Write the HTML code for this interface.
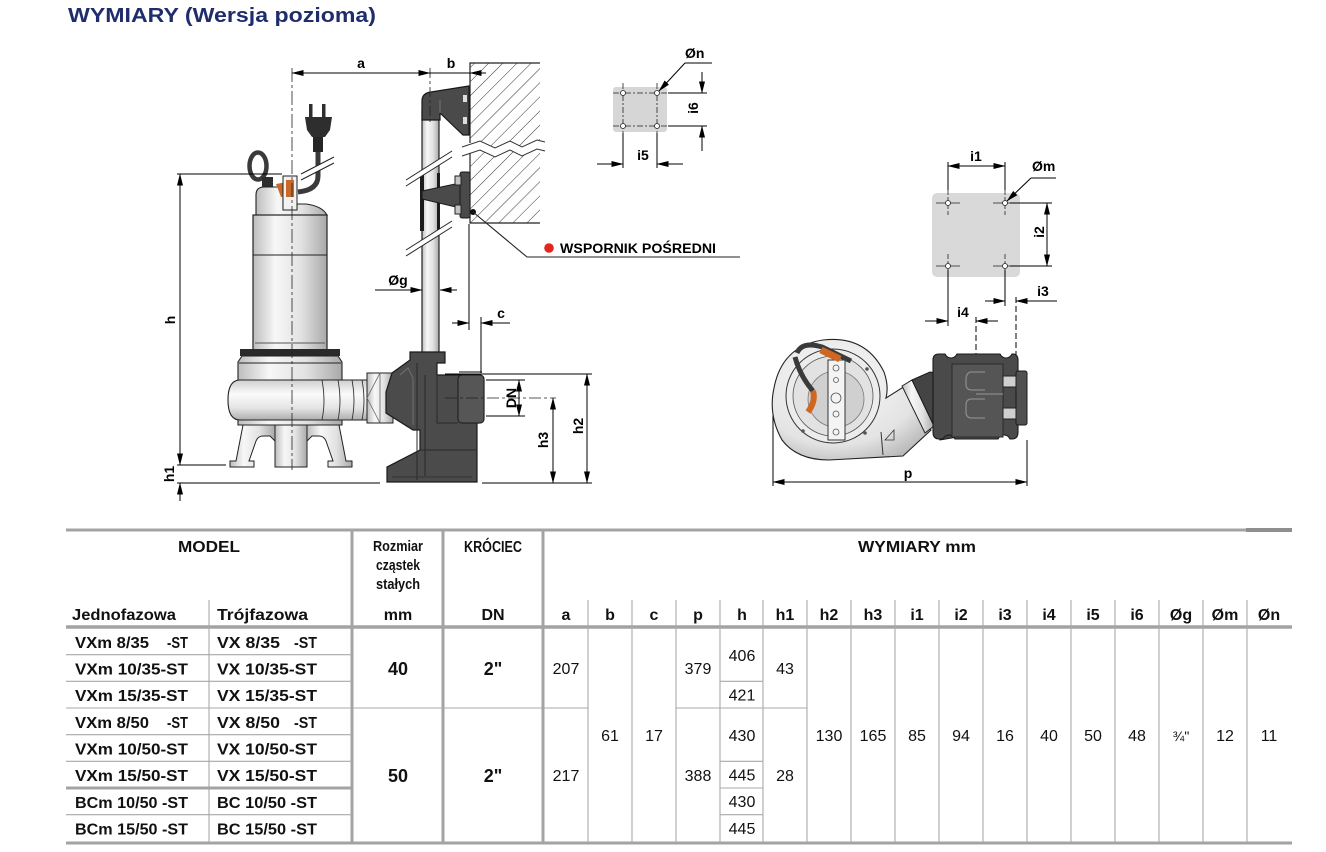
<!DOCTYPE html>
<html><head><meta charset="utf-8">
<style>html,body{margin:0;padding:0;background:#fff}svg{display:block}</style>
</head><body>
<svg xmlns="http://www.w3.org/2000/svg" width="1326" height="852" viewBox="0 0 1326 852" font-family="'Liberation Sans', sans-serif">
<defs>
 <marker id="ar" markerWidth="12" markerHeight="6" refX="11.5" refY="3" orient="auto-start-reverse" markerUnits="userSpaceOnUse"><path d="M0,0 L12,3 L0,6 z" fill="#000"/></marker>
 <linearGradient id="mh" x1="0" y1="0" x2="1" y2="0"><stop offset="0" stop-color="#bdbdbd"/><stop offset=".3" stop-color="#f7f7f7"/><stop offset=".65" stop-color="#e2e2e2"/><stop offset="1" stop-color="#a9a9a9"/></linearGradient>
 <linearGradient id="mv" x1="0" y1="0" x2="0" y2="1"><stop offset="0" stop-color="#cfcfcf"/><stop offset=".35" stop-color="#fbfbfb"/><stop offset=".7" stop-color="#e4e4e4"/><stop offset="1" stop-color="#aeaeae"/></linearGradient>
 <radialGradient id="mr" cx=".4" cy=".35" r=".75"><stop offset="0" stop-color="#fbfbfb"/><stop offset=".7" stop-color="#e3e3e3"/><stop offset="1" stop-color="#b5b5b5"/></radialGradient>
 <pattern id="hatch" width="10" height="10" patternUnits="userSpaceOnUse" patternTransform="rotate(45)"><line x1="0" y1="0" x2="0" y2="10" stroke="#333" stroke-width="1"/></pattern>
</defs>
<rect width="1326" height="852" fill="#fff"/>

<!-- TITLE -->
<text x="68" y="22" font-size="20" font-weight="bold" fill="#1f2d6b" textLength="308" lengthAdjust="spacingAndGlyphs">WYMIARY (Wersja pozioma)</text>

<!-- ================= FRONT VIEW DRAWING ================= -->
<rect x="470" y="63" width="70" height="160" fill="url(#hatch)"/>
<path d="M462,147 L480,141 L495,148 L510,141 L522,147 L537,140 L545,142 L545,151 L537,149 L522,156 L510,150 L495,157 L480,150 L462,156 Z" fill="#fff"/>
<polyline points="462,147 480,141 495,148 510,141 522,147 537,140 545,142" fill="none" stroke="#333"/>
<polyline points="462,156 480,150 495,157 510,150 522,156 537,149 545,151" fill="none" stroke="#333"/>
<path d="M540,63 L470,63 L470,143 M470,153 L470,223 L540,223" fill="none" stroke="#222" stroke-width="1.2"/>

<rect x="422" y="110" width="17" height="246" fill="url(#mh)" stroke="#222" stroke-width="1.2"/>
<rect x="420" y="173" width="4" height="58" fill="#1c1c1c"/>
<rect x="437" y="173" width="3" height="58" fill="#1c1c1c"/>
<polygon points="406,180 452,151 452,157 406,186" fill="#fff"/>
<line x1="406" y1="180" x2="452" y2="151" stroke="#222"/>
<line x1="406" y1="186" x2="452" y2="157" stroke="#222"/>
<polygon points="406,250 452,221 452,227 406,256" fill="#fff"/>
<line x1="406" y1="250" x2="452" y2="221" stroke="#222"/>
<line x1="406" y1="256" x2="452" y2="227" stroke="#222"/>

<path d="M422,120 L422,101 Q422,93 431,92 L469,86 L469,135 L463,135 L440,113 L440,120 Z" fill="#4a4a4a" stroke="#1a1a1a" stroke-width="1.2"/>
<line x1="440" y1="113" x2="440" y2="100" stroke="#777"/>
<rect x="463" y="95" width="4" height="7" fill="#ddd"/>
<rect x="463" y="117" width="4" height="7" fill="#ddd"/>

<polygon points="422,191 460,183 460,208 422,199" fill="#4a4a4a" stroke="#1a1a1a"/>
<rect x="460" y="172" width="10" height="46" rx="2" fill="#4a4a4a" stroke="#1a1a1a"/>
<rect x="455" y="176" width="6" height="9" fill="#c4c4c4" stroke="#222"/>
<rect x="455" y="205" width="6" height="9" fill="#c4c4c4" stroke="#222"/>
<circle cx="473" cy="212" r="3" fill="#111"/>
<polyline points="473,212 527,257 740,257" fill="none" stroke="#222" stroke-width="1.1"/>
<circle cx="549" cy="248" r="4.8" fill="#e2261d"/>
<text x="560" y="253" font-size="13.5" font-weight="bold" textLength="156" lengthAdjust="spacingAndGlyphs">WSPORNIK POŚREDNI</text>

<ellipse cx="258" cy="166" rx="8.5" ry="13.5" fill="none" stroke="#3a3a3a" stroke-width="4.5"/>
<rect x="262" y="177" width="11" height="11" fill="#2e2e2e"/>
<path d="M318,150 L318,176 Q318,190 298,192" fill="none" stroke="#3a3a3a" stroke-width="5"/>
<polygon points="301,174 334,157 334,163 301,180" fill="#fff"/>
<line x1="301" y1="174" x2="334" y2="157" stroke="#222"/>
<line x1="301" y1="180" x2="334" y2="163" stroke="#222"/>
<rect x="309" y="104" width="3.5" height="14" fill="#2e2e2e"/>
<rect x="322" y="104" width="3.5" height="14" fill="#2e2e2e"/>
<path d="M305,117 L332,117 L330,130 L325,137 L312,137 L307,130 Z" fill="#2e2e2e"/>
<rect x="313" y="137" width="10" height="15" fill="#262626"/>

<path d="M256,215 L256,195 Q256,187 264,187 L283,187 L283,208 L297,208 L297,204 L306,204 Q322,206 327,215 Z" fill="url(#mh)" stroke="#222" stroke-width="1.1"/>
<path d="M276,184 L287,182 L292,195 L281,197 Z" fill="#c8682a"/>
<rect x="283" y="176" width="14" height="34" fill="#f2f2f2" stroke="#222"/>
<rect x="286" y="180" width="8" height="17" fill="#c8682a"/>
<rect x="253" y="215" width="74" height="135" fill="url(#mh)" stroke="#222" stroke-width="1.2"/>
<line x1="253" y1="255" x2="327" y2="255" stroke="#222" stroke-width="1.1"/>
<line x1="255" y1="343" x2="325" y2="343" stroke="#555"/>
<rect x="240" y="349" width="100" height="7" fill="#2a2a2a"/>
<path d="M242,356 L338,356 L342,362 L342,425 L238,425 L238,362 Z" fill="url(#mh)" stroke="#222" stroke-width="1.1"/>
<line x1="239" y1="363" x2="341" y2="363" stroke="#222"/>
<path d="M243,425 L236,461 L230,461 L230,467 L254,467 L254,461 L249,461 L256,441 Q258,436 263,436 L270,436 L275,441 L275,425 Z" fill="url(#mh)" stroke="#222"/>
<path d="M339,425 L346,461 L352,461 L352,467 L328,467 L328,461 L333,461 L326,441 Q324,436 319,436 L312,436 L307,441 L307,425 Z" fill="url(#mh)" stroke="#222"/>
<rect x="275" y="425" width="32" height="42" fill="url(#mh)" stroke="#222"/>
<path d="M240,380 L372,380 L372,420 L240,420 Q228,420 228,400 Q228,380 240,380 Z" fill="url(#mv)" stroke="#222" stroke-width="1.1"/>
<path d="M322,380 Q326,400 322,420 M338,380 Q342,400 338,420 M352,380 Q356,400 352,420 M362,380 Q366,400 362,420" fill="none" stroke="#333" stroke-width=".9"/>
<rect x="367" y="373" width="26" height="50" fill="url(#mh)" stroke="#222"/>
<path d="M367,398 L380,373 M380,423 L367,398 M380,373 L380,423" fill="none" stroke="#666" stroke-width=".8"/>

<path d="M410,352 L445,352 L445,363 L437,363 L437,375 L480,375 Q484,376 484,380 L484,418 Q484,423 479,423 L477,423 L477,482 L387,482 L387,467 L420,450 L420,430 L413,430 L386,413 L386,392 L392,373 L410,360 Z" fill="#4b4b4b" stroke="#1a1a1a" stroke-width="1.2"/>
<rect x="458" y="375" width="26" height="48" rx="4" fill="#565656" stroke="#1a1a1a"/>
<path d="M417,363 L417,480 M425,375 L425,476 M420,450 L477,450 M437,375 L437,423 L458,423" fill="none" stroke="#2a2a2a" stroke-width="1"/>
<path d="M400,375 L408,368 L413,378 L413,425" fill="none" stroke="#6a6a6a" stroke-width="1.2"/>
<line x1="392" y1="477" x2="472" y2="477" stroke="#333"/>

<line x1="292" y1="68" x2="292" y2="470" stroke="#222" stroke-width=".8" stroke-dasharray="14 3 3 3"/>
<line x1="430" y1="68" x2="430" y2="122" stroke="#222" stroke-width=".8" stroke-dasharray="10 3 3 3"/>
<line x1="445" y1="398" x2="556" y2="398" stroke="#222" stroke-width=".8" stroke-dasharray="12 3 3 3"/>

<g stroke="#000" stroke-width="1" fill="none">
 <line x1="292" y1="73" x2="430" y2="73" marker-start="url(#ar)" marker-end="url(#ar)"/>
 <line x1="430" y1="73" x2="470" y2="73"/>
 <line x1="486" y1="73" x2="470" y2="73" marker-end="url(#ar)"/>
 <line x1="177" y1="174" x2="282" y2="174"/>
 <line x1="180" y1="174" x2="180" y2="465" marker-start="url(#ar)" marker-end="url(#ar)"/>
 <line x1="177" y1="465" x2="226" y2="465"/>
 <line x1="177" y1="483" x2="380" y2="483"/>
 <line x1="482" y1="483" x2="592" y2="483"/>
 <line x1="180" y1="501" x2="180" y2="483" marker-end="url(#ar)"/>
 <line x1="375" y1="290" x2="422" y2="290" marker-end="url(#ar)"/>
 <line x1="457" y1="290" x2="440" y2="290" marker-end="url(#ar)"/>
 <line x1="469" y1="224" x2="469" y2="330"/>
 <line x1="481" y1="317" x2="481" y2="373"/>
 <line x1="459" y1="372" x2="482" y2="372"/>
 <line x1="452" y1="323" x2="469" y2="323" marker-end="url(#ar)"/>
 <line x1="510" y1="323" x2="481" y2="323" marker-end="url(#ar)"/>
 <line x1="486" y1="380" x2="525" y2="380"/>
 <line x1="486" y1="416" x2="525" y2="416"/>
 <line x1="519" y1="398" x2="519" y2="380" marker-end="url(#ar)"/>
 <line x1="519" y1="398" x2="519" y2="416" marker-end="url(#ar)"/>
 <line x1="553" y1="398" x2="553" y2="483" marker-start="url(#ar)" marker-end="url(#ar)"/>
 <line x1="445" y1="374" x2="592" y2="374"/>
 <line x1="587" y1="374" x2="587" y2="483" marker-start="url(#ar)" marker-end="url(#ar)"/>
</g>
<g font-size="14" font-weight="bold" fill="#000">
 <text x="361" y="68" text-anchor="middle">a</text>
 <text x="451" y="68" text-anchor="middle">b</text>
 <text x="398" y="285" text-anchor="middle">Øg</text>
 <text x="501" y="318" text-anchor="middle">c</text>
 <text transform="translate(175,320) rotate(-90)" text-anchor="middle">h</text>
 <text transform="translate(174,474) rotate(-90)" text-anchor="middle">h1</text>
 <text transform="translate(516,398) rotate(-90)" text-anchor="middle">DN</text>
 <text transform="translate(548,440) rotate(-90)" text-anchor="middle">h3</text>
 <text transform="translate(583,426) rotate(-90)" text-anchor="middle">h2</text>
</g>

<!-- ================= Øn PATTERN ================= -->
<rect x="613" y="87" width="54" height="45" rx="3" fill="#d6d6d6"/>
<g stroke="#222" stroke-width=".8" fill="none">
 <line x1="613" y1="93" x2="667" y2="93" stroke-dasharray="6 2 2 2"/>
 <line x1="613" y1="126" x2="667" y2="126" stroke-dasharray="6 2 2 2"/>
 <line x1="623" y1="83" x2="623" y2="136" stroke-dasharray="6 2 2 2"/>
 <line x1="657" y1="83" x2="657" y2="136" stroke-dasharray="6 2 2 2"/>
 <circle cx="623" cy="93" r="2.5" fill="#fff"/><circle cx="657" cy="93" r="2.5" fill="#fff"/>
 <circle cx="623" cy="126" r="2.5" fill="#fff"/><circle cx="657" cy="126" r="2.5" fill="#fff"/>
</g>
<g stroke="#000" stroke-width="1" fill="none">
 <line x1="668" y1="93" x2="707" y2="93"/>
 <line x1="668" y1="126" x2="707" y2="126"/>
 <line x1="702" y1="72" x2="702" y2="93" marker-end="url(#ar)"/>
 <line x1="702" y1="151" x2="702" y2="126" marker-end="url(#ar)"/>
 <line x1="623" y1="133" x2="623" y2="168"/>
 <line x1="657" y1="133" x2="657" y2="168"/>
 <line x1="597" y1="164" x2="623" y2="164" marker-end="url(#ar)"/>
 <line x1="683" y1="164" x2="657" y2="164" marker-end="url(#ar)"/>
 <polyline points="712,63 685,63"/>
 <line x1="685" y1="63" x2="659" y2="91" marker-end="url(#ar)"/>
</g>
<g font-size="14" font-weight="bold">
 <text x="685" y="58">Øn</text>
 <text x="643" y="160" text-anchor="middle">i5</text>
 <text transform="translate(698,108) rotate(-90)" text-anchor="middle">i6</text>
</g>

<!-- ================= Øm PATTERN ================= -->
<rect x="932" y="193" width="88" height="84" rx="5" fill="#d9d9d9"/>
<g stroke="#222" stroke-width=".8" fill="none">
 <line x1="936" y1="203" x2="960" y2="203"/><line x1="993" y1="203" x2="1017" y2="203"/>
 <line x1="936" y1="266" x2="960" y2="266"/><line x1="993" y1="266" x2="1017" y2="266"/>
 <line x1="948" y1="190" x2="948" y2="215" stroke-dasharray="5 2"/><line x1="1005" y1="190" x2="1005" y2="215" stroke-dasharray="5 2"/>
 <line x1="948" y1="254" x2="948" y2="280" stroke-dasharray="5 2"/><line x1="1005" y1="254" x2="1005" y2="280" stroke-dasharray="5 2"/>
 <circle cx="948" cy="203" r="2.5" fill="#fff"/><circle cx="1005" cy="203" r="2.5" fill="#fff"/>
 <circle cx="948" cy="266" r="2.5" fill="#fff"/><circle cx="1005" cy="266" r="2.5" fill="#fff"/>
</g>
<g stroke="#000" stroke-width="1" fill="none">
 <line x1="948" y1="162" x2="948" y2="190"/>
 <line x1="1005" y1="162" x2="1005" y2="190"/>
 <line x1="976" y1="166" x2="948" y2="166" marker-end="url(#ar)"/>
 <line x1="976" y1="166" x2="1005" y2="166" marker-end="url(#ar)"/>
 <polyline points="1056,178 1031,178"/>
 <line x1="1031" y1="178" x2="1007" y2="201" marker-end="url(#ar)"/>
 <line x1="1010" y1="203" x2="1052" y2="203"/>
 <line x1="1010" y1="266" x2="1052" y2="266"/>
 <line x1="1047" y1="234" x2="1047" y2="203" marker-end="url(#ar)"/>
 <line x1="1047" y1="234" x2="1047" y2="266" marker-end="url(#ar)"/>
 <line x1="1005" y1="270" x2="1005" y2="306"/>
 <line x1="948" y1="270" x2="948" y2="326"/>
 <line x1="1016" y1="297" x2="1016" y2="357" stroke-dasharray="6 3"/>
 <line x1="976" y1="317" x2="976" y2="400" stroke-dasharray="6 3"/>
 <line x1="985" y1="301" x2="1005" y2="301" marker-end="url(#ar)"/>
 <line x1="1057" y1="301" x2="1016" y2="301" marker-end="url(#ar)"/>
 <line x1="925" y1="321" x2="948" y2="321" marker-end="url(#ar)"/>
 <line x1="998" y1="321" x2="976" y2="321" marker-end="url(#ar)"/>
 <line x1="773" y1="414" x2="773" y2="486"/>
 <line x1="1027" y1="440" x2="1027" y2="486"/>
 <line x1="900" y1="482" x2="773" y2="482" marker-end="url(#ar)"/>
 <line x1="900" y1="482" x2="1027" y2="482" marker-end="url(#ar)"/>
</g>
<g font-size="14" font-weight="bold">
 <text x="976" y="161" text-anchor="middle">i1</text>
 <text x="1032" y="171">Øm</text>
 <text transform="translate(1044,232) rotate(-90)" text-anchor="middle">i2</text>
 <text x="1043" y="296" text-anchor="middle">i3</text>
 <text x="963" y="317" text-anchor="middle">i4</text>
 <text x="908" y="478" text-anchor="middle">p</text>
</g>

<!-- ================= TOP VIEW PUMP ================= -->
<path d="M829,460 Q797,460 782,440 Q768,415 774,388 Q782,346 823,340 Q866,335 884,372 Q889,386 886,398 L905,386 L931,430 L903,456 Z" fill="url(#mr)" stroke="#222" stroke-width="1.1"/>
<line x1="881" y1="432" x2="883" y2="455" stroke="#333"/>
<polygon points="885,440 894,430 894,440" fill="none" stroke="#333" stroke-width=".8"/>
<circle cx="833" cy="396" r="47" fill="#ececec" stroke="#333"/>
<circle cx="833" cy="396" r="40" fill="#e2e2e2" stroke="#555" stroke-width=".8"/>
<circle cx="836" cy="399" r="28" fill="#d0d0d0" stroke="#777" stroke-width=".8"/>
<rect x="828" y="360" width="17" height="80" fill="#f4f4f4" stroke="#333"/>
<g fill="none" stroke="#555" stroke-width=".8">
 <circle cx="836" cy="368" r="3"/><circle cx="836" cy="380" r="2.5"/><circle cx="836" cy="398" r="5"/><circle cx="836" cy="414" r="3"/><circle cx="836" cy="432" r="3"/>
</g>
<g fill="#555"><circle cx="800" cy="372" r="1.8"/><circle cx="867" cy="369" r="1.8"/><circle cx="803" cy="431" r="1.8"/><circle cx="865" cy="433" r="1.8"/></g>
<path d="M797,353 Q802,341 822,347 L851,361" fill="none" stroke="#3a3a3a" stroke-width="5"/>
<path d="M795,357 Q800,376 813,391" fill="none" stroke="#3a3a3a" stroke-width="5"/>
<path d="M821,350 L840,359" fill="none" stroke="#d0661f" stroke-width="7"/>
<path d="M813,391 Q816,401 808,412" fill="none" stroke="#d0661f" stroke-width="6"/>
<polygon points="902,386 912,380 934,426 925,433" fill="url(#mh)" stroke="#222"/>
<polygon points="912,380 930,372 958,376 958,437 940,440 934,426" fill="#444" stroke="#1a1a1a"/>
<path d="M933,360 Q933,354 939,354 L945,354 Q947,358 951,358 Q955,358 957,354 L1000,354 Q1002,358 1006,358 Q1010,358 1012,354 L1014,354 Q1018,355 1018,360 L1018,432 Q1018,439 1012,439 L1010,439 Q1008,435 1004,435 Q1000,435 998,439 L955,439 Q953,435 949,435 Q945,435 943,439 L939,439 Q933,439 933,432 Z" fill="#4a4a4a" stroke="#1a1a1a" stroke-width="1.1"/>
<rect x="952" y="364" width="51" height="73" fill="#555" stroke="#2a2a2a"/>
<path d="M985,372 L972,372 Q966,372 966,380 L966,384 Q966,390 972,390 L985,390 M985,399 L972,399 Q966,399 966,405 L966,412 Q966,418 972,418 L985,418 M976,394 L1003,394" fill="none" stroke="#8a8a8a" stroke-width="1.3"/>
<rect x="1016" y="371" width="11" height="54" rx="2" fill="#505050" stroke="#1a1a1a"/>
<rect x="1003" y="376" width="13" height="11" fill="#cfcfcf" stroke="#222"/>
<rect x="1003" y="408" width="13" height="11" fill="#cfcfcf" stroke="#222"/>

<!-- ================= TABLE ================= -->
<g stroke="#a3a3a3" fill="none">
 <line x1="66" y1="530" x2="1292" y2="530" stroke-width="3"/>
 <line x1="1246" y1="530" x2="1292" y2="530" stroke-width="4" stroke="#8f8f8f"/>
 <line x1="66" y1="627" x2="1292" y2="627" stroke-width="3.5"/>
 <line x1="66" y1="843" x2="1292" y2="843" stroke-width="3"/>
 <line x1="352" y1="529" x2="352" y2="844" stroke-width="3"/>
 <line x1="443" y1="529" x2="443" y2="844" stroke-width="3"/>
 <line x1="543" y1="529" x2="543" y2="844" stroke-width="3"/>
 <g stroke-width="1.1" stroke="#a8a8a8">
  <line x1="209" y1="600" x2="209" y2="842"/>
  <line x1="588" y1="600" x2="588" y2="842"/><line x1="632" y1="600" x2="632" y2="842"/>
  <line x1="676" y1="600" x2="676" y2="842"/><line x1="720" y1="600" x2="720" y2="842"/>
  <line x1="763" y1="600" x2="763" y2="842"/><line x1="807" y1="600" x2="807" y2="842"/>
  <line x1="851" y1="600" x2="851" y2="842"/><line x1="895" y1="600" x2="895" y2="842"/>
  <line x1="939" y1="600" x2="939" y2="842"/><line x1="983" y1="600" x2="983" y2="842"/>
  <line x1="1027" y1="600" x2="1027" y2="842"/><line x1="1071" y1="600" x2="1071" y2="842"/>
  <line x1="1115" y1="600" x2="1115" y2="842"/><line x1="1159" y1="600" x2="1159" y2="842"/>
  <line x1="1203" y1="600" x2="1203" y2="842"/><line x1="1247" y1="600" x2="1247" y2="842"/>
  <line x1="66" y1="654.7" x2="352" y2="654.7"/><line x1="66" y1="681.3" x2="352" y2="681.3"/>
  <line x1="66" y1="708" x2="352" y2="708"/><line x1="66" y1="734.7" x2="352" y2="734.7"/>
  <line x1="66" y1="761.3" x2="352" y2="761.3"/><line x1="66" y1="814.7" x2="352" y2="814.7"/>
  <line x1="352" y1="708" x2="588" y2="708"/>
  <line x1="676" y1="708" x2="720" y2="708"/>
  <line x1="763" y1="708" x2="807" y2="708"/>
  <line x1="720" y1="681.3" x2="763" y2="681.3"/><line x1="720" y1="708" x2="763" y2="708"/>
  <line x1="720" y1="761.3" x2="763" y2="761.3"/><line x1="720" y1="788" x2="763" y2="788"/>
  <line x1="720" y1="814.7" x2="763" y2="814.7"/>
 </g>
 <line x1="66" y1="788" x2="352" y2="788" stroke-width="3"/>
</g>

<g font-weight="bold" fill="#111">
 <text x="209" y="552" font-size="16" text-anchor="middle" textLength="62" lengthAdjust="spacingAndGlyphs">MODEL</text>
 <text x="398" y="551" font-size="15" text-anchor="middle" textLength="50" lengthAdjust="spacingAndGlyphs">Rozmiar</text>
 <text x="398" y="570" font-size="15" text-anchor="middle" textLength="44" lengthAdjust="spacingAndGlyphs">cząstek</text>
 <text x="398" y="589" font-size="15" text-anchor="middle" textLength="44" lengthAdjust="spacingAndGlyphs">stałych</text>
 <text x="493" y="552" font-size="16" text-anchor="middle" textLength="58" lengthAdjust="spacingAndGlyphs">KRÓCIEC</text>
 <text x="917" y="552" font-size="16" text-anchor="middle" textLength="118" lengthAdjust="spacingAndGlyphs">WYMIARY mm</text>
 <text x="72" y="620" font-size="16" textLength="104" lengthAdjust="spacingAndGlyphs">Jednofazowa</text>
 <text x="217" y="620" font-size="16" textLength="91" lengthAdjust="spacingAndGlyphs">Trójfazowa</text>
 <text x="398" y="620" font-size="16" text-anchor="middle">mm</text>
 <text x="493" y="620" font-size="16" text-anchor="middle">DN</text>
 <g font-size="16" text-anchor="middle">
  <text x="566" y="620">a</text><text x="610" y="620">b</text><text x="654" y="620">c</text>
  <text x="698" y="620">p</text><text x="742" y="620">h</text><text x="785" y="620">h1</text>
  <text x="829" y="620">h2</text><text x="873" y="620">h3</text><text x="917" y="620">i1</text>
  <text x="961" y="620">i2</text><text x="1005" y="620">i3</text><text x="1049" y="620">i4</text>
  <text x="1093" y="620">i5</text><text x="1137" y="620">i6</text><text x="1181" y="620">Øg</text>
  <text x="1225" y="620">Øm</text><text x="1269" y="620">Øn</text>
 </g>
</g>

<g font-weight="bold" font-size="15.5" fill="#111">
 <text x="75" y="648" textLength="74" lengthAdjust="spacingAndGlyphs">VXm 8/35</text>
 <text x="167" y="648" textLength="21" lengthAdjust="spacingAndGlyphs">-ST</text>
 <text x="75" y="674.5" textLength="113" lengthAdjust="spacingAndGlyphs">VXm 10/35-ST</text>
 <text x="75" y="701" textLength="113" lengthAdjust="spacingAndGlyphs">VXm 15/35-ST</text>
 <text x="75" y="728" textLength="74" lengthAdjust="spacingAndGlyphs">VXm 8/50</text>
 <text x="167" y="728" textLength="21" lengthAdjust="spacingAndGlyphs">-ST</text>
 <text x="75" y="754.5" textLength="113" lengthAdjust="spacingAndGlyphs">VXm 10/50-ST</text>
 <text x="75" y="781" textLength="113" lengthAdjust="spacingAndGlyphs">VXm 15/50-ST</text>
 <text x="75" y="808" textLength="113" lengthAdjust="spacingAndGlyphs">BCm 10/50 -ST</text>
 <text x="75" y="834.5" textLength="113" lengthAdjust="spacingAndGlyphs">BCm 15/50 -ST</text>

 <text x="217" y="648" textLength="63" lengthAdjust="spacingAndGlyphs">VX 8/35</text>
 <text x="294" y="648" textLength="23" lengthAdjust="spacingAndGlyphs">-ST</text>
 <text x="217" y="674.5" textLength="100" lengthAdjust="spacingAndGlyphs">VX 10/35-ST</text>
 <text x="217" y="701" textLength="100" lengthAdjust="spacingAndGlyphs">VX 15/35-ST</text>
 <text x="217" y="728" textLength="63" lengthAdjust="spacingAndGlyphs">VX 8/50</text>
 <text x="294" y="728" textLength="23" lengthAdjust="spacingAndGlyphs">-ST</text>
 <text x="217" y="754.5" textLength="100" lengthAdjust="spacingAndGlyphs">VX 10/50-ST</text>
 <text x="217" y="781" textLength="100" lengthAdjust="spacingAndGlyphs">VX 15/50-ST</text>
 <text x="217" y="808" textLength="100" lengthAdjust="spacingAndGlyphs">BC 10/50 -ST</text>
 <text x="217" y="834.5" textLength="100" lengthAdjust="spacingAndGlyphs">BC 15/50 -ST</text>

 <g font-size="18" text-anchor="middle">
  <text x="398" y="675">40</text><text x="398" y="782">50</text>
  <text x="493" y="675">2"</text><text x="493" y="782">2"</text>
 </g>
</g>

<g font-size="16" fill="#111" text-anchor="middle">
 <text x="566" y="674">207</text><text x="566" y="781">217</text>
 <text x="610" y="741">61</text><text x="654" y="741">17</text>
 <text x="698" y="674">379</text><text x="698" y="781">388</text>
 <text x="742" y="661">406</text><text x="742" y="700.5">421</text>
 <text x="742" y="741">430</text><text x="742" y="780.5">445</text>
 <text x="742" y="807">430</text><text x="742" y="834">445</text>
 <text x="785" y="674">43</text><text x="785" y="781">28</text>
 <text x="829" y="741">130</text><text x="873" y="741">165</text>
 <text x="917" y="741">85</text><text x="961" y="741">94</text>
 <text x="1005" y="741">16</text><text x="1049" y="741">40</text>
 <text x="1093" y="741">50</text><text x="1137" y="741">48</text>
 <text x="1181" y="741" font-size="14">¾"</text>
 <text x="1225" y="741">12</text><text x="1269" y="741">11</text>
</g>
</svg>
</body></html>
